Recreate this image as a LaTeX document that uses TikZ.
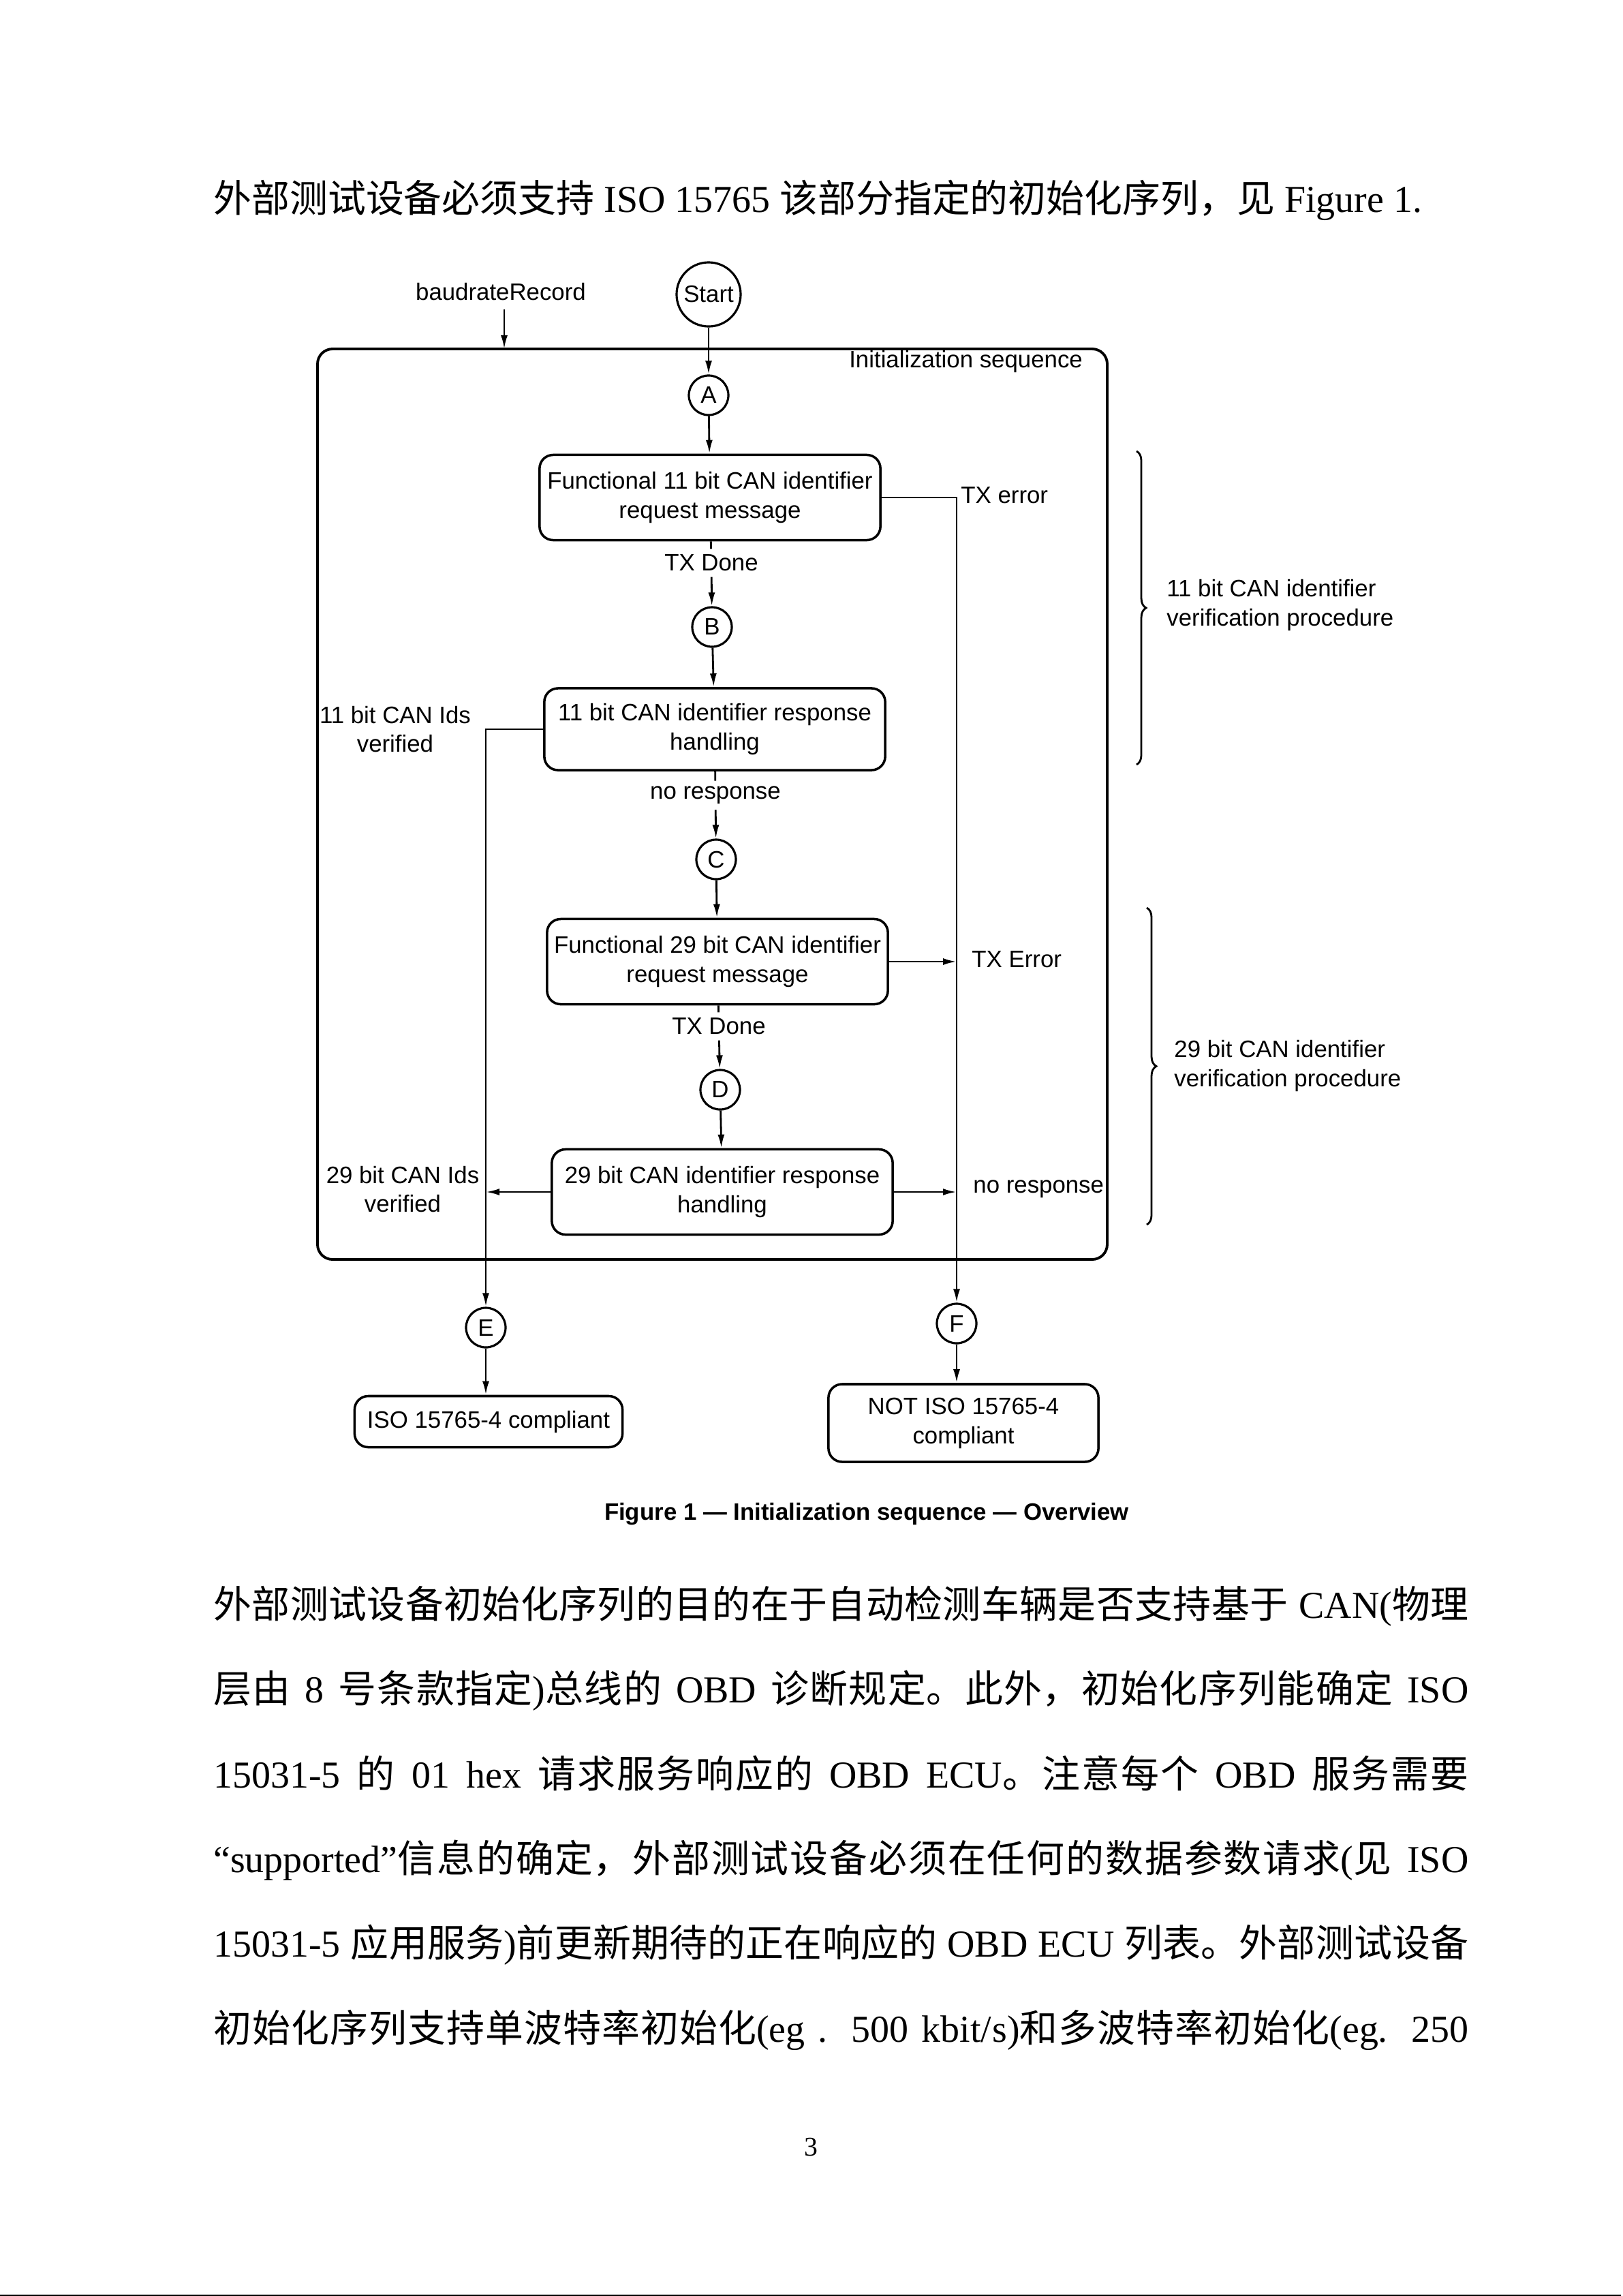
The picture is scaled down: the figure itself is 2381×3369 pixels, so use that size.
\documentclass[tikz,border=0pt]{standalone}
\usepackage{fontspec}
\setmainfont{Liberation Serif}
\newfontfamily\cjkfont{Noto Sans CJK SC}
\newfontfamily\diagfont{Liberation Sans}
\usetikzlibrary{arrows.meta,decorations.pathreplacing}
\XeTeXinterchartokenstate=1
\chardef\zhclass=8
\count255="4E00
\loop
  \XeTeXcharclass\count255=\zhclass
  \advance\count255 by 1
\ifnum\count255<"A000 \repeat
\XeTeXcharclass"3002=\zhclass
\XeTeXcharclass"FF0C=\zhclass
\XeTeXcharclass"201C=0
\XeTeXcharclass"201D=0
\XeTeXcharclass`(=0
\XeTeXcharclass`)=0
\XeTeXinterchartoks 0 \zhclass = {\begingroup\cjkfont}
\XeTeXinterchartoks 1 \zhclass = {\begingroup\cjkfont}
\XeTeXinterchartoks 2 \zhclass = {\begingroup\cjkfont}
\XeTeXinterchartoks 3 \zhclass = {\begingroup\cjkfont}
\XeTeXinterchartoks 4095 \zhclass = {\begingroup\cjkfont}
\XeTeXinterchartoks \zhclass 0 = {\endgroup}
\XeTeXinterchartoks \zhclass 1 = {\endgroup}
\XeTeXinterchartoks \zhclass 2 = {\endgroup}
\XeTeXinterchartoks \zhclass 3 = {\endgroup}
\XeTeXinterchartoks \zhclass 4095 = {\endgroup}
\XeTeXlinebreaklocale "zh"
\XeTeXlinebreakskip=0pt plus 0.4pt
\begin{document}
\begin{tikzpicture}[x=0.01cm, y=-0.01cm,
  every node/.style={font=\diagfont\fontsize{9.9}{12.2}\selectfont},
  stepbox/.style={draw, line width=1pt, rounded corners=0.2cm, align=center,
    minimum width=5cm, minimum height=1.25cm, inner sep=2pt},
  conn/.style={circle, draw, line width=0.9pt, inner sep=0pt, minimum size=0.58cm},
  lbl/.style={align=center, inner sep=2pt},
  arr/.style={-{Latex[length=2mm,width=1mm]}},
  line width=0.8pt]
  \useasboundingbox (0,0) rectangle (2381,3369);
  \node[anchor=base west, inner sep=0pt, font=\fontsize{15.9}{20}\selectfont] (heading) at (312,311)
    {外部测试设备必须支持 ISO 15765 该部分指定的初始化序列，见 Figure 1.};
  \draw[line width=1.1pt, rounded corners=0.22cm] (466,512) rectangle (1625,1848);
  \node[anchor=east] (seqlbl) at (1602,530) {Initialization sequence};
  \node[conn, minimum size=0.94cm] (start) at (1040,432) {Start};
  \node (baud) at (735,428) {baudrateRecord};
  \coordinate (baudin) at (740,512);
  \node[conn] (A) at (1040,580) {A};
  \node[stepbox] (req11) at (1042,730) {Functional 11 bit CAN identifier\\request message};
  \node[lbl] (done11) at (1044,826) {TX Done};
  \node[conn] (B) at (1045,920) {B};
  \node[stepbox, minimum height=1.2cm] (resp11) at (1049,1070) {11 bit CAN identifier response\\handling};
  \node[lbl] (nores11) at (1050,1167) {no response};
  \node[conn] (C) at (1051,1261) {C};
  \node[stepbox] (req29) at (1053,1411) {Functional 29 bit CAN identifier\\request message};
  \node[lbl] (done29) at (1055,1506) {TX Done};
  \node[conn] (D) at (1057,1599) {D};
  \node[stepbox] (resp29) at (1060,1749) {29 bit CAN identifier response\\handling};
  \node[conn] (E) at (713,1948) {E};
  \node[conn] (F) at (1404,1942) {F};
  \node[stepbox, minimum width=3.93cm, minimum height=0.75cm] (ok) at (717,2086) {ISO 15765-4 compliant};
  \node[stepbox, minimum width=3.96cm, minimum height=1.14cm] (notok) at (1414,2088) {NOT ISO 15765-4\\compliant};
  \node[lbl, anchor=west] (txerr11) at (1402,727) {TX error};
  \node[lbl] (ids11) at (580,1070) {11 bit CAN Ids\\verified};
  \node[lbl, anchor=west] (txerr29) at (1418,1408) {TX Error};
  \node[lbl] (ids29) at (591,1745) {29 bit CAN Ids\\verified};
  \node[lbl, anchor=west] (nores29) at (1420,1745) {no response};
  \draw[arr] (baudin |- baud.south) -- (baudin);
  \draw[arr] (start) -- (A);
  \draw[arr] (A) -- (req11);
  \draw (req11) -- (done11);
  \draw[arr] (done11) -- (B);
  \draw[arr] (B) -- (resp11);
  \draw (resp11) -- (nores11);
  \draw[arr] (nores11) -- (C);
  \draw[arr] (C) -- (req29);
  \draw (req29) -- (done29);
  \draw[arr] (done29) -- (D);
  \draw[arr] (D) -- (resp29);
  \draw[arr] (req11.east) -- (req11.east -| F) -- (F);
  \draw[arr] (resp11.west) -- (resp11.west -| E) -- (E);
  \draw[arr] (req29.east) -- (req29.east -| F);
  \draw[arr] (resp29.west) -- (resp29.west -| E);
  \draw[arr] (resp29.east) -- (resp29.east -| F);
  \draw[arr] (E) -- (E |- ok.north);
  \draw[arr] (F) -- (F |- notok.north);
  \draw[decorate, decoration={brace, amplitude=4pt}] (1668,662) -- (1668,1122);
  \node[lbl, anchor=west, align=left] (proc11) at (1704,888) {11 bit CAN identifier\\verification procedure};
  \draw[decorate, decoration={brace, amplitude=4pt}] (1683,1332) -- (1683,1797);
  \node[lbl, anchor=west, align=left] (proc29) at (1715,1564) {29 bit CAN identifier\\verification procedure};
  \node[font=\diagfont\bfseries\fontsize{9.9}{12}\selectfont] (caption) at (1272,2222)
    {Figure 1 — Initialization sequence — Overview};
  \node[anchor=base west, inner sep=0pt, text width=18.41cm, align=justify,
    font=\fontsize{15.9}{35.4}\selectfont] (body) at (312,2374)
    {外部测试设备初始化序列的目的在于自动检测车辆是否支持基于 CAN(物理\linebreak
    层由 8 号条款指定)总线的 OBD 诊断规定。此外，初始化序列能确定 ISO\linebreak
    15031-5 的 01 hex 请求服务响应的 OBD ECU。注意每个 OBD 服务需要\linebreak
    “supported”信息的确定，外部测试设备必须在任何的数据参数请求(见 ISO\linebreak
    15031-5 应用服务)前更新期待的正在响应的 OBD ECU 列表。外部测试设备\linebreak
    初始化序列支持单波特率初始化(eg . 500 kbit/s)和多波特率初始化(eg. 250\linebreak};
  \node[font=\fontsize{11.3}{13}\selectfont] (pageno) at (1190,3150) {3};
  \fill (0,3367) rectangle (2379,3369);
\end{tikzpicture}
\end{document}
